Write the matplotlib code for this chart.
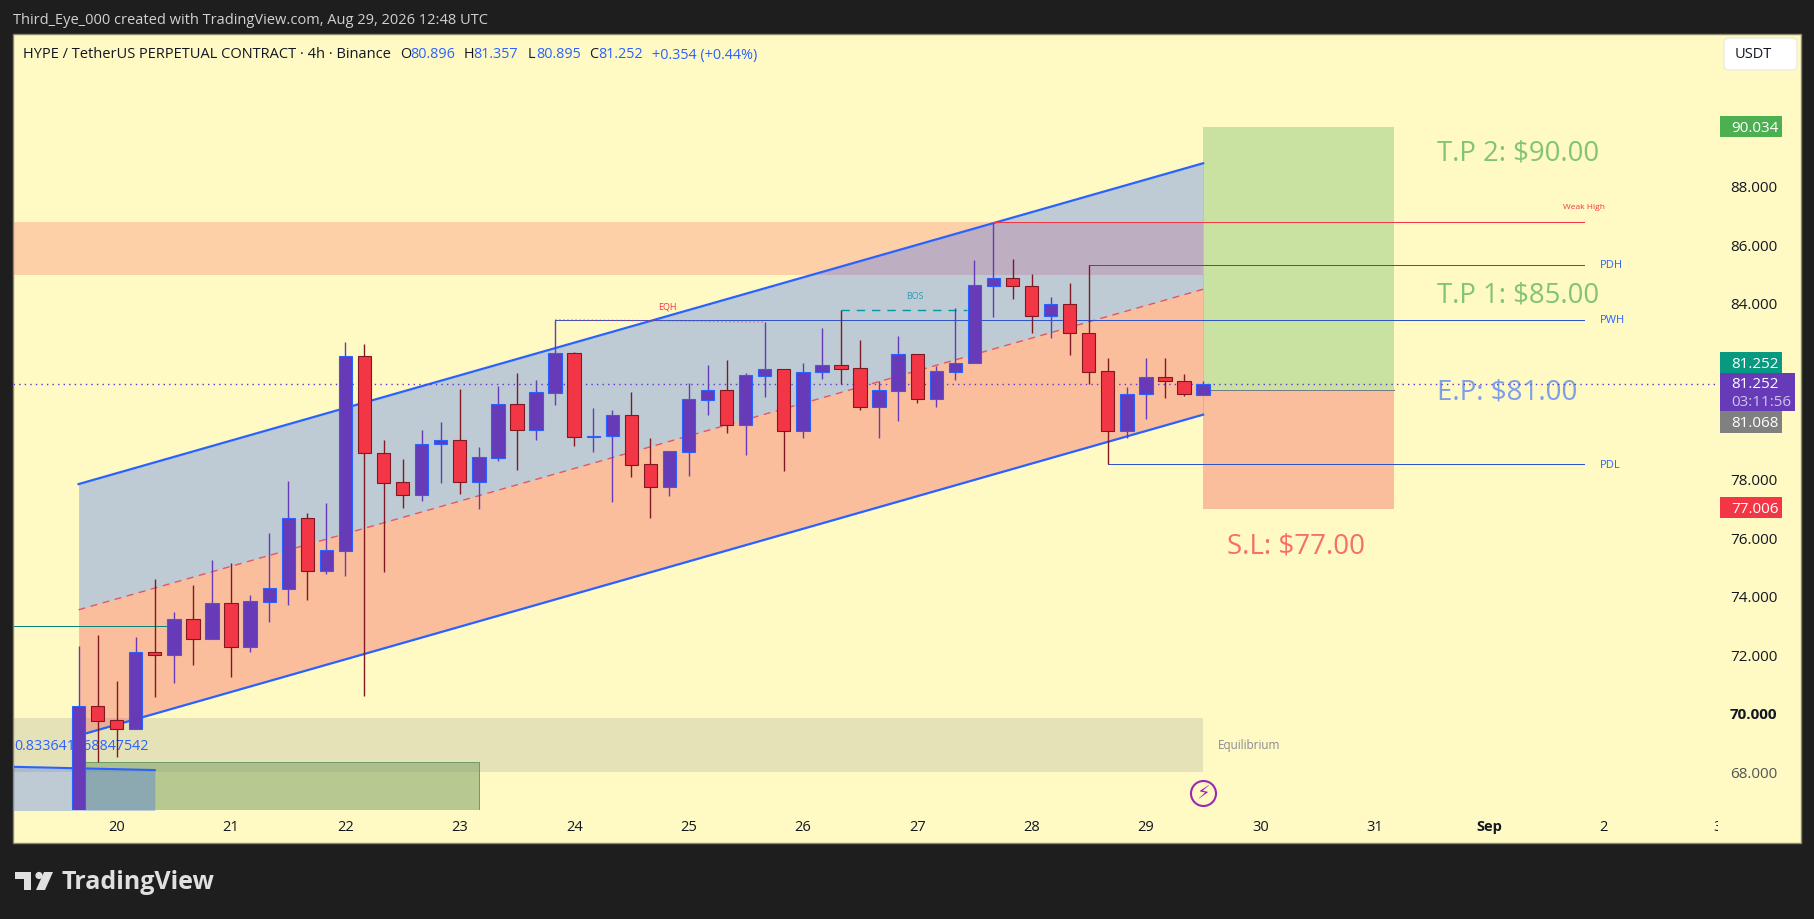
import matplotlib
matplotlib.use('Agg')
import matplotlib.pyplot as plt
from matplotlib.patches import Rectangle, FancyBboxPatch, Circle, Polygon
from matplotlib.transforms import Bbox, ScaledTranslation

W, H = 1814, 920
plt.rcParams['font.family'] = ['Open Sans', 'DejaVu Sans']

# 4h bars, bar 0 = Aug 20 00:00
bar_idx = list(range(-2, 58))
opens = [66.00, 70.26, 69.79, 69.48, 72.11, 72.01, 73.24, 72.58, 73.78, 72.30,
         73.84, 74.28, 76.68, 74.90, 75.58, 82.21, 78.90, 77.91, 77.49, 79.21,
         79.34, 77.93, 78.75, 80.57, 79.71, 80.97, 82.31, 79.47, 79.50, 80.20,
         78.52, 77.76, 78.96, 80.73, 81.05, 79.88, 81.55, 81.77, 79.65, 81.66,
         81.90, 81.80, 80.47, 81.04, 82.28, 80.74, 81.69, 82.00, 84.62, 84.87,
         84.60, 83.60, 83.99, 83.00, 81.70, 79.65, 80.91, 81.49, 81.36, 80.896]
highs = [72.33, 72.70, 71.13, 72.63, 74.61, 73.48, 74.41, 75.26, 75.15, 74.07,
         76.18, 77.96, 76.85, 77.19, 82.70, 82.63, 79.35, 78.71, 79.70, 79.97,
         81.09, 79.12, 81.21, 81.64, 81.40, 83.46, 82.35, 80.45, 80.38, 80.99,
         79.42, 78.97, 81.30, 81.92, 82.09, 81.64, 83.38, 81.77, 81.97, 83.17,
         83.78, 82.77, 81.36, 82.90, 82.28, 81.89, 83.85, 85.50, 86.77, 85.53,
         85.02, 84.24, 84.71, 85.32, 82.14, 81.16, 82.14, 82.14, 81.61, 81.357]
lows = [65.50, 68.38, 68.55, 69.48, 70.60, 71.07, 71.69, 72.58, 71.28, 72.13,
        73.16, 73.73, 73.90, 74.78, 74.73, 70.62, 74.85, 77.04, 77.27, 77.89,
        77.51, 77.00, 78.64, 78.33, 79.35, 80.55, 79.15, 78.95, 77.24, 78.09,
        76.69, 77.44, 78.13, 80.21, 79.60, 78.84, 80.82, 78.31, 79.43, 81.44,
        81.25, 80.39, 79.43, 80.01, 80.63, 80.49, 81.40, 82.00, 83.56, 84.17,
        83.02, 82.85, 82.26, 81.25, 78.52, 79.43, 80.07, 80.80, 80.87, 80.895]
closes = [70.26, 69.78, 69.48, 72.11, 72.01, 73.24, 72.58, 73.78, 72.30, 73.85,
          74.29, 76.68, 74.90, 75.59, 82.21, 78.90, 77.90, 77.47, 79.21, 79.34,
          77.93, 78.76, 80.57, 79.71, 80.98, 82.31, 79.47, 79.50, 80.20, 78.51,
          77.76, 78.97, 80.74, 81.05, 79.88, 81.56, 81.77, 79.65, 81.66, 81.90,
          81.79, 80.47, 81.05, 82.28, 80.74, 81.70, 82.00, 84.63, 84.87, 84.60,
          83.60, 83.99, 83.00, 81.69, 79.65, 80.91, 81.49, 81.36, 80.91, 81.252]

# channel, ends at first and last bar
chan_x = [-2, 57]
chan_top = [77.85, 88.80]
chan_mid = [73.56, 84.50]
chan_bot = [69.27, 80.22]

# levels
tp_price, entry_price, sl_price = 90.034, 81.068, 77.006
last_price = 81.252
pdh, pwh, pdl, weak_high = 85.32, 83.46, 78.52, 86.78
supply_zone = (85.0, 86.80)
eq_zone = (68.02, 69.87)

price_ticks = [88, 86, 84, 78, 76, 74, 72, 70, 68]
day_pos = [0, 6, 12, 18, 24, 30, 36, 42, 48, 54, 60, 66, 72, 78, 84]
day_labels = ['20', '21', '22', '23', '24', '25', '26', '27', '28', '29', '30', '31', 'Sep', '2', '3']

PURPLE = '#673AB7'
BLUE = '#2962FF'
RED = '#F23645'
DKRED = '#801922'
GREEN = '#4CAF50'
YELLOW = '#FFF9C4'


def ptext(x, y, s, **kw):
    # text placed by screen pixel, y counted from the top
    kw.setdefault('va', 'center')
    return fig.text(x / W, 1 - y / H, s, **kw)


def badge(x0, y0, x1, y1, color):
    fig.add_artist(Rectangle((x0 / W, 1 - y1 / H), (x1 - x0) / W, (y1 - y0) / H,
                             transform=fig.transFigure, fc=color, ec='none', zorder=5))


fig = plt.figure(figsize=(W / 100, H / 100), dpi=100, facecolor='#1E1E1E')
fig.add_artist(Rectangle((13 / W, 1 - 844 / H), 1788 / W, 809 / H, transform=fig.transFigure,
                         fc=YELLOW, ec='#8C8A6E', lw=1, zorder=-5))

ax = fig.add_axes([14 / W, 1 - 811 / H, 1705 / W, 775 / H], facecolor='none')
ax.set_xlim((14 - 116.7) / 19.06, (1719 - 116.7) / 19.06)
ax.set_ylim(88 - (810 - 186.7) / 29.3, 88 + (186.7 - 35) / 29.3)
for s in ax.spines.values():
    s.set_visible(False)

# zones under everything
ax.axhspan(supply_zone[0], supply_zone[1], xmax=(1203 - 14) / 1705, color='#F85958', alpha=0.25, lw=0, zorder=1)
ax.axhspan(eq_zone[0], eq_zone[1], xmax=(1203 - 14) / 1705, color='#787B86', alpha=0.18, lw=0, zorder=1)
ax.add_patch(Rectangle((-2, 60), 21, 68.37 - 60, fc='#719B60', ec='none', alpha=0.5, zorder=1))
ax.plot([-2, 19, 19], [68.37, 68.37, 60], color='#6E9D6A', lw=0.72, zorder=1)
ax.fill_between([-6, 2], [68.20, 68.09], [60, 60], color=BLUE, alpha=0.3, lw=0, zorder=1.2)
ax.plot([-6, 2], [68.21, 68.09], color=BLUE, lw=1.5, zorder=1.3)
ax.text(1.66, 68.92, '0.833641968847542', color=BLUE, fontsize=10.3,
        ha='right', va='center', clip_on=True, zorder=1.4)

# channel
ax.fill_between(chan_x, chan_mid, chan_top, color=BLUE, alpha=0.3, lw=0, zorder=1.5)
ax.fill_between(chan_x, chan_bot, chan_mid, color=RED, alpha=0.3, lw=0, zorder=1.5)
ax.plot(chan_x, chan_top, color=BLUE, lw=1.6, zorder=2)
ax.plot(chan_x, chan_bot, color=BLUE, lw=1.6, zorder=2)
ax.plot(chan_x, chan_mid, color=RED, lw=1, ls=(0, (5, 4)), alpha=0.8, zorder=2)

# long position tool
ax.add_patch(Rectangle((57, entry_price), 10, tp_price - entry_price, fc=GREEN, alpha=0.3, ec='none', zorder=1.6))
ax.add_patch(Rectangle((57, sl_price), 10, entry_price - sl_price, fc=RED, alpha=0.3, ec='none', zorder=1.6))
ax.plot([57, 67], [entry_price, entry_price], color='#787B86', lw=0.72, zorder=1.7)

# structure lines
ax.plot([-6, 3], [73.0, 73.0], color='#0B8578', lw=0.72, zorder=1.8)
ax.plot([23, 77], [pwh, pwh], color='#2F55C8', lw=0.72, zorder=2)
ax.plot([23, 34], [83.46, 83.38], color=RED, lw=1.1, ls=':', alpha=0.5, zorder=2)
ax.plot([38, 44.6], [83.78, 83.78], color='#0097A7', lw=1, ls=(0, (6, 5)), zorder=2)
ax.plot([46, 77], [weak_high, weak_high], color=RED, lw=0.72, zorder=2)
ax.plot([51, 77], [pdh, pdh], color='#2F55C8', lw=0.72, zorder=2)
ax.plot([52, 77], [pdl, pdl], color='#2F55C8', lw=0.72, zorder=2)
ax.plot([-6, 84], [last_price, last_price], color='#5E35D0', lw=1, ls=(0, (1, 3)), zorder=2.2)

# candles
for i, o, h, l, c in zip(bar_idx, opens, highs, lows, closes):
    up = c >= o
    ax.vlines(i, l, h, color=PURPLE if up else DKRED, lw=1.0, zorder=3)
    ax.bar(i, abs(c - o), bottom=min(o, c), width=0.70, color=PURPLE if up else RED,
           edgecolor=BLUE if up else DKRED, linewidth=0.8, zorder=4)

# chart labels
ax.text(28.9, 83.92, 'EQH', color=RED, fontsize=6.5, ha='center', va='center', zorder=5)
ax.text(41.9, 84.29, 'BOS', color='#2E9DB0', fontsize=6.5, ha='center', va='center', zorder=5)
ax.text(77, 87.33, 'Weak High', color=RED, fontsize=6, ha='center', va='center', zorder=5)
ax.text(77.8, pdh + 0.02, 'PDH', color=BLUE, fontsize=8, ha='left', va='center', zorder=5)
ax.text(77.8, pwh - 0.0, 'PWH', color=BLUE, fontsize=8, ha='left', va='center', zorder=5)
ax.text(77.8, pdl, 'PDL', color=BLUE, fontsize=8, ha='left', va='center', zorder=5)
ax.text(57.8, 68.95, 'Equilibrium', color='#8A8A96', fontsize=8.5, ha='left', va='center', zorder=5)

ptext(1437, 153, 'T.P 2: $90.00', color=GREEN, alpha=0.7, fontsize=19.8)
ptext(1437, 296, 'T.P 1: $85.00', color=GREEN, alpha=0.7, fontsize=19.8)
ptext(1437, 392.5, 'E.P: $81.00', color=BLUE, alpha=0.6, fontsize=20)
ptext(1227, 547, 'S.L: $77.00', color=RED, alpha=0.7, fontsize=20)

# lightning mark on last bar
ax.plot([57], [67.30], 'o', ms=18, mfc='none', mec='#9C27B0', mew=1.5, zorder=5)
ax.text(57, 67.30, '\u26A1', color='#9C27B0', fontsize=14, ha='center', va='center',
        family='DejaVu Sans', zorder=5)

# axes
ax.set_xticks(day_pos)
ax.set_xticklabels(day_labels)
ax.yaxis.tick_right()
ax.set_yticks(price_ticks)
ax.set_yticklabels(['%.3f' % p for p in price_ticks])
ax.tick_params(axis='x', length=0, pad=6.3, labelsize=10.5, colors='#131722')
ax.tick_params(axis='y', length=0, pad=8, labelsize=11, colors='#131722')
for lab, name in zip(ax.get_xticklabels(), day_labels):
    if name == 'Sep':
        lab.set_fontweight('bold')
    if name == '3':
        lab.set_clip_on(True)
        lab.set_clip_box(Bbox([[0, 0], [1717.8, H]]))
for lab, p in zip(ax.get_yticklabels(), price_ticks):
    lab.set_transform(lab.get_transform() + ScaledTranslation(0, 0.012, fig.dpi_scale_trans))
    if p == 70:
        lab.set_fontweight('bold')
    if p == 68:
        lab.set_color('#555555')

# price badges
badge(1720, 117, 1782, 138, GREEN)
ptext(1731, 128.5, '90.034', color='white', fontsize=11, zorder=6)
badge(1720, 353, 1782, 374, '#089981')
ptext(1731, 364.5, '81.252', color='white', fontsize=11, zorder=6)
badge(1720, 412, 1782, 434, '#808080')
ptext(1731, 424, '81.068', color='white', fontsize=11, zorder=6)
badge(1720, 374, 1795, 412, PURPLE)
ptext(1731, 385, '81.252', color='white', fontsize=11, zorder=6)
ptext(1731, 403, '03:11:56', color='#D1C4E9', fontsize=11, zorder=6)
badge(1720, 498, 1782, 519, RED)
ptext(1731, 509.5, '77.006', color='white', fontsize=11, zorder=6)

# USDT button
fig.add_artist(FancyBboxPatch((1724 / W, 1 - 71 / H), 73 / W, 32 / H,
                              boxstyle='round,pad=0,rounding_size=%f' % (5 / W),
                              mutation_aspect=W / H, transform=fig.transFigure, fc='white', ec='#EDEBDD', lw=1, zorder=5))
ptext(1735, 55, 'USDT', color='#131722', fontsize=10.5, zorder=6)

# header
ptext(13, 21, 'Third_Eye_000 created with TradingView.com, Aug 29, 2026 12:48 UTC', color='#D1D1D1', fontsize=10.5)
ptext(23, 55, 'HYPE / TetherUS PERPETUAL CONTRACT \u00b7 4h \u00b7 Binance', color='#131722', fontsize=10.5)
for x, s, col in [(400.5, 'O', '#131722'), (410, '80.896', BLUE), (464, 'H', '#131722'), (473.5, '81.357', BLUE),
                  (528, 'L', '#131722'), (536, '80.895', BLUE), (589, 'C', '#131722'), (598, '81.252', BLUE),
                  (652, '+0.354 (+0.44%)', BLUE)]:
    ptext(x, 55, s, color=col, fontsize=10.4)

# TradingView logo
logo = '#E0E0E0'
fig.add_artist(Polygon([(15 / W, 1 - 873 / H), (31 / W, 1 - 873 / H), (31 / W, 1 - 891 / H), (24 / W, 1 - 891 / H),
                        (24 / W, 1 - 880 / H), (15 / W, 1 - 880 / H)], transform=fig.transFigure, fc=logo, ec='none'))
ax_logo = fig.add_axes([0, 0, 1, 1], facecolor='none')
ax_logo.set_xlim(0, W)
ax_logo.set_ylim(H, 0)
ax_logo.axis('off')
ax_logo.add_patch(Circle((39, 876.5), 3.6, fc=logo, ec='none'))
ax_logo.add_patch(Polygon([(44, 873), (53, 873), (45, 891), (36, 891)], fc=logo, ec='none'))
ptext(62, 883, 'TradingView', color=logo, fontsize=18, fontweight='bold')

fig.savefig('out.png', dpi=100, facecolor=fig.get_facecolor())
